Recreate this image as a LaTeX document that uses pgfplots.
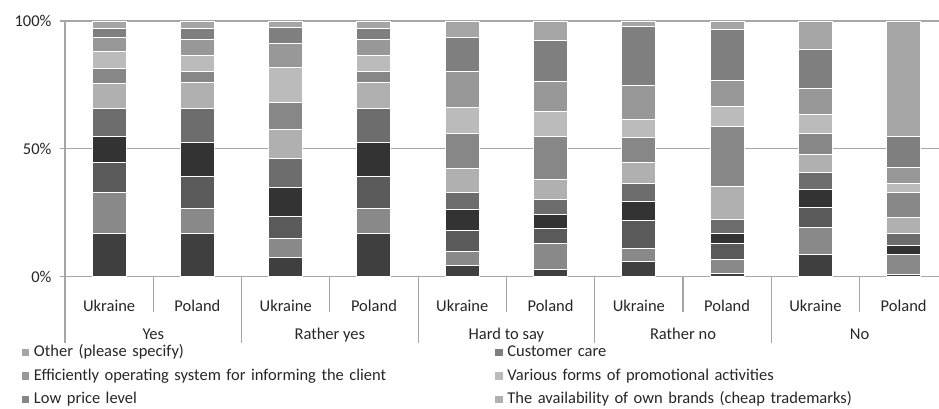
\documentclass[border=0pt]{standalone}
\usepackage{fontspec}
\setmainfont{Carlito}
\usepackage{pgfplots}
\usepackage{pgfplotstable}
\pgfplotsset{compat=1.18}

\definecolor{c1}{HTML}{3F3F3F}
\definecolor{c2}{HTML}{898989}
\definecolor{c3}{HTML}{5A5A5A}
\definecolor{c4}{HTML}{333333}
\definecolor{c5}{HTML}{6D6D6D}
\definecolor{c6}{HTML}{B0B0B0}
\definecolor{c7}{HTML}{878787}
\definecolor{c8}{HTML}{BBBBBB}
\definecolor{c9}{HTML}{989898}
\definecolor{c10}{HTML}{7F7F7F}
\definecolor{c11}{HTML}{A5A5A5}
\definecolor{axgray}{HTML}{A6A6A6}
\definecolor{txt}{HTML}{262626}

\pgfplotstableread{
x s1 s2 s3 s4 s5 s6 s7 s8 s9 s10 s11
0 16.9 16.0 11.7 10.2 11.0 9.8 6.0 6.5 5.5 3.4 3.0
1 16.9 9.7 12.5 13.3 13.4 10.2 4.3 6.1 6.2 4.4 3.0
2 7.4 7.5 8.8 11.1 11.6 11.0 10.8 13.7 9.4 6.2 2.5
3 16.9 9.7 12.5 13.3 13.4 10.2 4.3 6.1 6.2 4.4 3.0
4 4.3 5.7 8.0 8.1 6.8 9.5 13.7 10.1 13.9 13.5 6.4
5 2.9 9.9 6.1 5.6 5.7 8.0 16.6 9.9 11.8 15.9 7.6
6 5.9 5.2 10.7 7.7 7.1 7.9 10.0 7.0 13.1 23.2 2.2
7 1.3 5.6 6.0 4.0 5.4 13.0 23.5 7.6 10.5 19.8 3.3
8 8.7 10.6 7.7 7.3 6.4 7.1 8.3 7.4 10.0 15.2 11.3
9 1.0 7.5 0.0 3.8 4.7 6.3 9.6 3.7 6.1 12.1 45.2
}\datatable

\begin{document}
\begin{tikzpicture}
\begin{axis}[
  at={(0pt,0pt)}, anchor=south west,
  scale only axis, width=874pt, height=255.7pt,
  xmin=-0.5, xmax=9.4, ymin=0, ymax=100,
  ybar stacked, bar width=34pt,
  clip=false,
  axis line style={draw=none},
  ymajorgrids, grid style={draw=axgray, line width=1.1pt},
  ytick={0,50,100}, yticklabels={0\%,50\%,100\%},
  ytick style={draw=axgray, line width=1.1pt},
  tick align=outside, major tick length=5pt,
  xtick={0,...,9},
  xticklabels={Ukraine,Poland,Ukraine,Poland,Ukraine,Poland,Ukraine,Poland,Ukraine,Poland},
  xtick style={draw=none},
  xticklabel style={anchor=base, yshift=-30pt},
  yticklabel style={xshift=-5pt},
  every tick label/.append style={font=\fontsize{16.5}{20}\selectfont, text=txt},
  legend image code/.code={\fill[#1,draw=none] (0pt,-3.7pt) rectangle (7.4pt,3.7pt); \path (11.6pt,0pt);},
  reverse legend,
  legend columns=2,
  legend cell align=left,
  legend style={at={(0,0)}, anchor=north west, xshift=-43.3pt, yshift=-67.6pt,
    draw=none, fill=none, inner sep=0pt, row sep=7.6pt,
    font=\fontsize{16.5}{20}\selectfont, text=txt,
    nodes={inner sep=0pt, text height=12pt, text depth=4pt, text width=440pt},
    /tikz/every even column/.append style={column sep=21.3pt}},
]
\addplot[fill=c1, draw=white, line width=1pt] table[x=x,y=s1]{\datatable};
\addplot[fill=c2, draw=white, line width=1pt] table[x=x,y=s2]{\datatable};
\addplot[fill=c3, draw=white, line width=1pt] table[x=x,y=s3]{\datatable};
\addplot[fill=c4, draw=white, line width=1pt] table[x=x,y=s4]{\datatable};
\addplot[fill=c5, draw=white, line width=1pt] table[x=x,y=s5]{\datatable};
\addplot[fill=c6, draw=white, line width=1pt] table[x=x,y=s6]{\datatable};
\addplot[fill=c7, draw=white, line width=1pt] table[x=x,y=s7]{\datatable};
\addplot[fill=c8, draw=white, line width=1pt] table[x=x,y=s8]{\datatable};
\addplot[fill=c9, draw=white, line width=1pt] table[x=x,y=s9]{\datatable};
\addplot[fill=c10, draw=white, line width=1pt] table[x=x,y=s10]{\datatable};
\addplot[fill=c11, draw=white, line width=1pt] table[x=x,y=s11]{\datatable};
\legend{,,,,,The availability of own brands (cheap trademarks),Low price level,Various forms of promotional activities,Efficiently operating system for informing the client,Customer care,Other (please specify)}
% separators and group labels
\draw[axgray, line width=1.1pt] (axis cs:-0.5,100) -- ([yshift=-66.3pt]axis cs:-0.5,0);
\pgfplotsinvokeforeach{0.5,2.5,4.5,6.5,8.5}{\draw[axgray, line width=1.1pt] (axis cs:#1,0) -- ([yshift=-35pt]axis cs:#1,0);}
\pgfplotsinvokeforeach{1.5,3.5,5.5,7.5}{\draw[axgray, line width=1.1pt] (axis cs:#1,0) -- ([yshift=-66.3pt]axis cs:#1,0);}
\node[anchor=base, font=\fontsize{16.5}{20}\selectfont, text=txt, inner sep=0pt] at ([yshift=-62.3pt]axis cs:0.5,0) {Yes};
\node[anchor=base, font=\fontsize{16.5}{20}\selectfont, text=txt, inner sep=0pt] at ([yshift=-62.3pt]axis cs:2.5,0) {Rather yes};
\node[anchor=base, font=\fontsize{16.5}{20}\selectfont, text=txt, inner sep=0pt] at ([yshift=-62.3pt]axis cs:4.5,0) {Hard to say};
\node[anchor=base, font=\fontsize{16.5}{20}\selectfont, text=txt, inner sep=0pt] at ([yshift=-62.3pt]axis cs:6.5,0) {Rather no};
\node[anchor=base, font=\fontsize{16.5}{20}\selectfont, text=txt, inner sep=0pt] at ([yshift=-62.3pt]axis cs:8.5,0) {No};
\end{axis}
\pgfresetboundingbox
\path[use as bounding box] (-65pt,-131.3pt) rectangle (874pt,276.7pt);
\end{tikzpicture}
\end{document}
